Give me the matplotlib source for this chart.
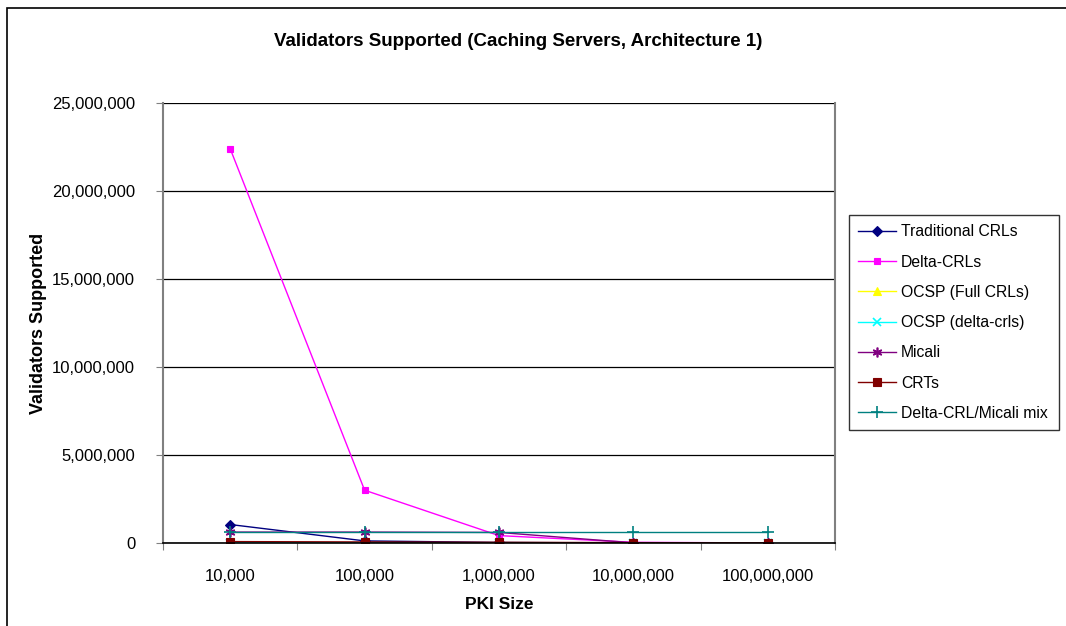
import matplotlib
matplotlib.use("Agg")
import matplotlib.pyplot as plt
from matplotlib.patches import Rectangle
from matplotlib.ticker import FixedLocator, FuncFormatter

plt.rcParams['font.family'] = ['Liberation Sans', 'DejaVu Sans']

categories = ["10,000", "100,000", "1,000,000", "10,000,000", "100,000,000"]
traditional = [1050000, 120000, 30000, 3000, 300]
delta_crls = [22400000, 3000000, 420000, 40000, 4000]
ocsp_full = [10000, 1000, 100, 10, 1]
ocsp_delta = [20000, 2000, 200, 20, 2]
micali = [620000, 620000, 600000, 10000, 1000]
crts = [80000, 60000, 40000, 20000, 10000]
mix = [620000, 620000, 620000, 620000, 620000]

series = [
    ("Traditional CRLs", traditional, "#000080", "D", 5),
    ("Delta-CRLs", delta_crls, "#FF00FF", "s", 5),
    ("OCSP (Full CRLs)", ocsp_full, "#FFFF00", "^", 6),
    ("OCSP (delta-crls)", ocsp_delta, "#00FFFF", "x", 6),
    ("Micali", micali, "#800080", (6, 2, 0), 7),
    ("CRTs", crts, "#800000", "s", 6),
    ("Delta-CRL/Micali mix", mix, "#008080", "+", 8),
]

W, H = 1066, 626
fig = plt.figure(figsize=(W / 100, H / 100), dpi=100)
fig.patch.set_facecolor("white")

# outer chart-area frame
fig.patches.append(Rectangle((7 / W, -0.1), 1.2, (H - 8) / H + 0.1,
                             transform=fig.transFigure, fill=False,
                             edgecolor="#000000", linewidth=1.2))

ax = fig.add_axes([163 / W, (H - 543) / H, (835 - 163) / W, (543 - 103) / H])
x = list(range(len(categories)))
for name, vals, color, marker, ms in series:
    ax.plot(x, vals, color=color, marker=marker, markersize=ms, linewidth=1.0,
            markeredgecolor=color, markerfacecolor=color, label=name,
            markeredgewidth=1.2 if marker in ("x", "+", (6, 2, 0)) else 0.8)

ax.set_xlim(-0.5, len(categories) - 0.5)
ax.set_ylim(0, 25000000)
ax.yaxis.set_major_locator(FixedLocator([0, 5e6, 10e6, 15e6, 20e6, 25e6]))
ax.yaxis.set_major_formatter(FuncFormatter(lambda v, p: f"{int(v):,}"))
ax.grid(axis="y", color="black", linewidth=0.9)
ax.set_axisbelow(True)

ax.set_xticks([i + 0.5 for i in range(-1, len(categories))])
ax.set_xticklabels([])
ax.set_xticks(x, minor=True)
ax.set_xticklabels(categories, minor=True)
ax.tick_params(axis="x", which="minor", length=0, pad=19, labelsize=12)
ax.tick_params(axis="x", which="major", length=5, direction="out", color="#808080")
ax.tick_params(axis="y", length=5, direction="out", color="#808080", labelsize=12, pad=15)

for s in ("left", "right", "top"):
    ax.spines[s].set_color("#808080")
    ax.spines[s].set_linewidth(1.5)
ax.spines["bottom"].set_color("black")
ax.spines["bottom"].set_linewidth(1.2)
ax.spines["top"].set_visible(False)

ax.set_xlabel("PKI Size", fontsize=12.5, fontweight="bold", labelpad=9)
ax.set_ylabel("Validators Supported", fontsize=13, fontweight="bold", labelpad=4)
fig.text(518 / W, 1 - 41 / H, "Validators Supported (Caching Servers, Architecture 1)",
         ha="center", va="center", fontsize=13.5, fontweight="bold")

leg = ax.legend(loc="upper left", bbox_to_anchor=(849 / W, 1 - 427 / H, 210 / W, 212 / H),
                bbox_transform=fig.transFigure, mode="expand", frameon=True,
                fancybox=False, edgecolor="black", fontsize=11.3, labelspacing=0.97,
                handlelength=2.4, handletextpad=0.3, borderpad=0.6, borderaxespad=0)
leg.get_frame().set_linewidth(1.0)

fig.savefig("out.png", dpi=100, facecolor="white")
